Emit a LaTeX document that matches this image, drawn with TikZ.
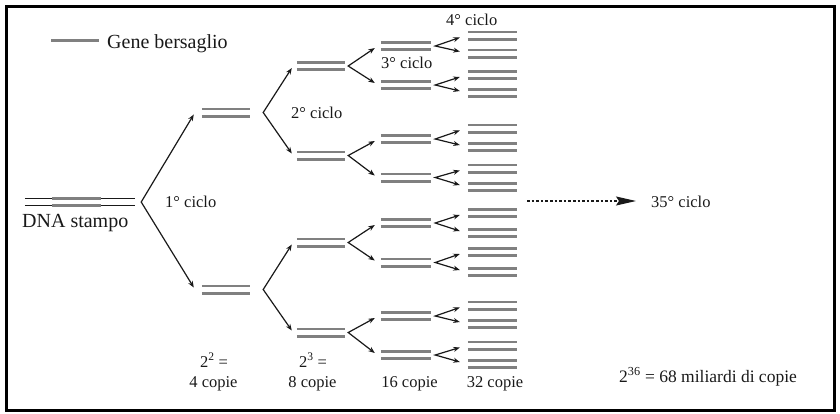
\documentclass[tikz,border=0pt]{standalone}
\usepackage{fontspec}
\setmainfont{Liberation Serif}
\usetikzlibrary{arrows.meta}

\definecolor{genegray}{RGB}{128,128,128}
\definecolor{ink}{RGB}{25,25,25}

\tikzset{
  % one double-stranded copy of the target gene: two grey bars
  geneline/.style={draw=genegray, line width=2.8pt},
  dup/.style={inner sep=0pt, minimum height=10pt, minimum width=#1,
    append after command={
      ([yshift=3.6pt]\tikzlastnode.west) edge[geneline] ([yshift=3.6pt]\tikzlastnode.east)
      ([yshift=-3.6pt]\tikzlastnode.west) edge[geneline] ([yshift=-3.6pt]\tikzlastnode.east)}},
  dup/.default=49pt,
  % a single grey bar, as used in the key
  single/.style={inner sep=0pt, outer sep=0pt, fill=genegray, draw=none,
    minimum height=3pt, minimum width=#1},
  strand/.style={draw=ink, line width=1.1pt},
  branch/.style={draw=ink, line width=1.2pt, line join=miter,
    {Stealth[length=6.5pt,width=5pt]}-{Stealth[length=6.5pt,width=5pt]}},
  dotarrow/.style={draw=ink, line width=1.1pt, dash pattern=on 2.6pt off 2pt,
    -{Stealth[length=20pt,width=9pt,inset=3pt]}},
  lab/.style={inner sep=0pt, text=ink, font=\fontsize{16.5}{18}\selectfont},
  biglab/.style={inner sep=0pt, text=ink, font=\fontsize{20}{22}\selectfont},
}

\begin{document}
\begin{tikzpicture}[x=1pt, y=-1pt]
\useasboundingbox (0,0) rectangle (840,413);
\draw[line width=3pt] (6.5,6.5) rectangle (834.5,410);

% key
\node[single=48pt] (leg) at (75,40) {};
\node[biglab, anchor=base west] (legtxt) at (107,48) {Gene bersaglio};

% template DNA with the target region
\node[inner sep=0pt, minimum width=110pt, minimum height=10pt] (dna) at (80,202) {};
\draw[strand] ([yshift=3.5pt]dna.west) -- ([yshift=3.5pt]dna.east);
\draw[strand] ([yshift=-3.5pt]dna.west) -- ([yshift=-3.5pt]dna.east);
\node[dup] (dnagene) at (76.5,202) {};
\node[biglab, anchor=base west] (dnalab) at (22,227) {DNA stampo};

% generation 1
\node[dup=48pt] (g1-1) at (226,112.5) {};
\node[dup=48pt] (g1-2) at (226,289.5) {};
% generation 2
\foreach \i/\y in {1/66, 2/155.5, 3/242.5, 4/332.5}
  \node[dup=48pt] (g2-\i) at (321,\y) {};
% generation 3
\foreach \i/\y in {1/46, 2/85, 3/139, 4/177.5, 5/223, 6/262.5, 7/316, 8/355}
  \node[dup=50pt] (g3-\i) at (406,\y) {};
% generation 4
\foreach \i/\y in {1/35.5, 2/53.5, 3/75, 4/93, 5/128.5, 6/147, 7/168.5, 8/187,
                   9/213, 10/233, 11/252, 12/272, 13/305.5, 14/324, 15/345.5, 16/364}
  \node[dup=49pt] (g4-\i) at (492.5,\y) {};

% branch points and arrows, cycle 1
\coordinate (v1) at ([xshift=6pt]dna.east);
\draw[branch] ([xshift=-8pt,yshift=-2pt]g1-1.west) -- (v1) -- ([xshift=-8pt,yshift=2pt]g1-2.west);
% cycle 2
\foreach \k [evaluate=\k as \a using int(2*\k-1), evaluate=\k as \b using int(2*\k)] in {1,2} {
  \coordinate (v2-\k) at ([xshift=13pt]g1-\k.east);
  \draw[branch] ([xshift=-5pt,yshift=-2pt]g2-\a.west) -- (v2-\k) -- ([xshift=-5pt,yshift=2pt]g2-\b.west);
}
% cycle 3
\foreach \k [evaluate=\k as \a using int(2*\k-1), evaluate=\k as \b using int(2*\k)] in {1,...,4} {
  \coordinate (v3-\k) at ([xshift=3pt]g2-\k.east);
  \draw[branch] ([xshift=-6pt,yshift=-2pt]g3-\a.west) -- (v3-\k) -- ([xshift=-6pt,yshift=2pt]g3-\b.west);
}
% cycle 4
\foreach \k [evaluate=\k as \a using int(2*\k-1), evaluate=\k as \b using int(2*\k)] in {1,...,8} {
  \coordinate (v4-\k) at ([xshift=4pt]g3-\k.east);
  \draw[branch] ([xshift=-8pt,yshift=-2pt]g4-\a.west) -- (v4-\k) -- ([xshift=-8pt,yshift=2pt]g4-\b.west);
}

% cycle labels
\node[lab, anchor=base west] (c1) at (165,207) {1° ciclo};
\node[lab, anchor=base west] (c2) at (291,118) {2° ciclo};
\node[lab, anchor=base west] (c3) at (381,68) {3° ciclo};
\node[lab, anchor=base west] (c4) at (446,25) {4° ciclo};
\node[lab, anchor=base west] (c35) at (651,207) {35° ciclo};

% jump to the last cycle
\coordinate (dots) at (527,201);
\draw[dotarrow, shorten >=15pt] (dots) -- (dots -| c35.west);

% copy counts
\node[lab, anchor=base] (p2) at (214,367) {2\textsuperscript{2} =};
\node[lab, anchor=base] (n4) at (213.5,387) {4 copie};
\node[lab, anchor=base] (p3) at (313,367) {2\textsuperscript{3} =};
\node[lab, anchor=base] (n8) at (312.5,387) {8 copie};
\node[lab, anchor=base] (n16) at (409.5,387) {16 copie};
\node[lab, anchor=base] (n32) at (495,387) {32 copie};
\node[lab, anchor=base west, font=\fontsize{17.5}{19}\selectfont] (tot) at (619,382)
  {2\textsuperscript{36} = 68 miliardi di copie};
\end{tikzpicture}
\end{document}
